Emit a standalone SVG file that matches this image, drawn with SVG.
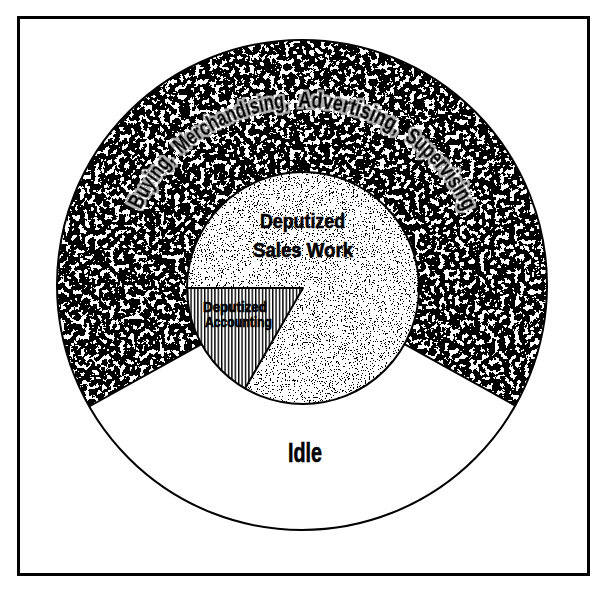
<svg xmlns="http://www.w3.org/2000/svg" width="606" height="600" viewBox="0 0 606 600">
  <style>
    .lbl { font-family: "Liberation Sans", "DejaVu Sans", sans-serif; font-weight: bold; fill: #000; stroke: #000; stroke-width: 0.6; text-anchor: middle; }
    .arc { font-family: "Liberation Sans", "DejaVu Sans", sans-serif; font-weight: bold; fill: #000; stroke: #000; stroke-width: 0.9; font-size: 22px; }
    .edge { fill: none; stroke: #000; stroke-width: 2; stroke-linejoin: round; }
  </style>
  <defs>
    <filter id="darkTex" filterUnits="userSpaceOnUse" x="0" y="0" width="606" height="600">
      <feTurbulence type="fractalNoise" baseFrequency="0.2" numOctaves="4" seed="4" result="n"/>
      <feColorMatrix in="n" type="matrix" values="0 0 0 0 0  0 0 0 0 0  0 0 0 0 0  1 0 0 0 0" result="na"/>
      <feComponentTransfer in="na" result="t">
        <feFuncA type="discrete" tableValues="0 0 0 0 0 0 0 0 0 0 0 1 1 1 1 1 1 1 1 1 1 1 1 1 1"/>
      </feComponentTransfer>
      <feFlood flood-color="#fff" result="w"/>
      <feComposite in="t" in2="w" operator="over" result="tex"/>
      <feComposite in="tex" in2="SourceGraphic" operator="in"/>
    </filter>
    <filter id="lightTex" filterUnits="userSpaceOnUse" x="0" y="0" width="606" height="600">
      <feTurbulence type="fractalNoise" baseFrequency="0.75" numOctaves="3" seed="9" result="n"/>
      <feColorMatrix in="n" type="matrix" values="0 0 0 0 0  0 0 0 0 0  0 0 0 0 0  1 0 0 0 0" result="na"/>
      <feComponentTransfer in="na" result="t">
        <feFuncA type="discrete" tableValues="0 0 0 0 0 0 0 0 0 0 0 0 0 0 0 0 1 1 1 1 1 1 1 1 1"/>
      </feComponentTransfer>
      <feFlood flood-color="#fff" result="w"/>
      <feComposite in="t" in2="w" operator="over" result="tex"/>
      <feComposite in="tex" in2="SourceGraphic" operator="in"/>
    </filter>
    <filter id="halo" x="-20%" y="-40%" width="140%" height="180%">
      <feMorphology in="SourceAlpha" operator="dilate" radius="2" result="d"/>
      <feFlood flood-color="#fff" flood-opacity="0.7"/>
      <feComposite in2="d" operator="in" result="h"/>
      <feMerge><feMergeNode in="h"/><feMergeNode in="SourceGraphic"/></feMerge>
    </filter>
    <pattern id="vhatch" patternUnits="userSpaceOnUse" width="3.4" height="10">
      <rect width="3.4" height="10" fill="#fff"/>
      <rect x="0" width="1.4" height="10" fill="#000"/>
    </pattern>
    <path id="arcPath" d="M140.7,209.8 A178,178 0 0,1 463.3,209.8"/>
  </defs>

  <rect width="606" height="600" fill="#fff"/>

  <g id="frame">
    <rect x="18.5" y="17.5" width="570" height="557" fill="none" stroke="#000" stroke-width="3"/>
  </g>

  <g id="buying-merchandising-advertising-supervising">
    <circle cx="302" cy="285" r="245" fill="#000" filter="url(#darkTex)"/>
    <g filter="url(#halo)">
      <text class="arc"><textPath href="#arcPath" startOffset="0" textLength="60" lengthAdjust="spacingAndGlyphs">Buying,</textPath></text>
      <text class="arc"><textPath href="#arcPath" startOffset="69" textLength="120" lengthAdjust="spacingAndGlyphs">Merchandising,</textPath></text>
      <text class="arc"><textPath href="#arcPath" startOffset="198" textLength="103" lengthAdjust="spacingAndGlyphs">Advertising,</textPath></text>
      <text class="arc"><textPath href="#arcPath" startOffset="310" textLength="95" lengthAdjust="spacingAndGlyphs">Supervising</textPath></text>
    </g>
  </g>

  <g id="idle">
    <path d="M303,288 L89.2,406.5 A245,245 0 0,0 515.2,405.6 Z" fill="#fff"/>
    <text class="lbl" x="305" y="462" font-size="28" textLength="34" lengthAdjust="spacingAndGlyphs">Idle</text>
  </g>

  <g id="deputized-sales-work">
    <circle cx="303" cy="288" r="116" fill="#000" filter="url(#lightTex)"/>
    <text class="lbl" x="302.5" y="228" font-size="21" textLength="85" lengthAdjust="spacingAndGlyphs">Deputized</text>
    <text class="lbl" x="303" y="257" font-size="21" textLength="100" lengthAdjust="spacingAndGlyphs">Sales Work</text>
  </g>

  <g id="deputized-accounting">
    <path d="M303,288 L187,288 A116,116 0 0,0 245,388.5 Z" fill="url(#vhatch)"/>
    <text class="lbl" x="235" y="312" font-size="14" textLength="64" lengthAdjust="spacingAndGlyphs">Deputized</text>
    <text class="lbl" x="238.5" y="327" font-size="14" textLength="67" lengthAdjust="spacingAndGlyphs">Accounting</text>
  </g>

  <g id="connectors">
    <circle cx="302" cy="285" r="245" class="edge" stroke-width="2.5"/>
    <circle cx="303" cy="288" r="116" class="edge"/>
    <line x1="89.2" y1="406.5" x2="201.5" y2="344.2" class="edge"/>
    <line x1="515.2" y1="405.6" x2="404.5" y2="344.2" class="edge"/>
    <path d="M187,288 L303,288 L245,388.5" class="edge"/>
  </g>
</svg>
